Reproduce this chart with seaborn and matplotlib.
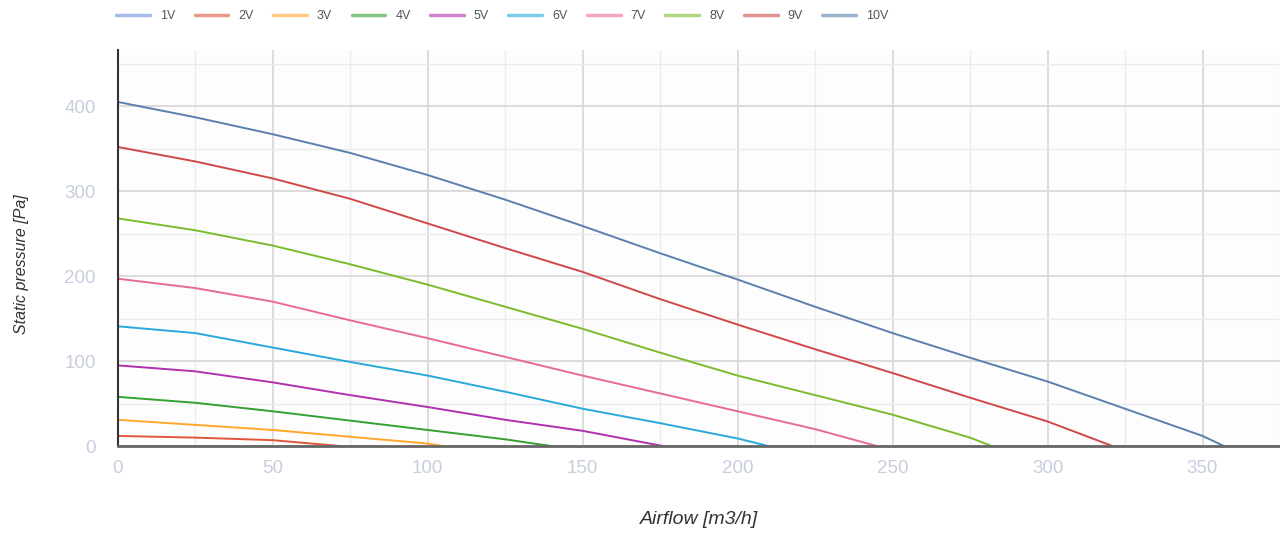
import matplotlib
matplotlib.use("Agg")
import matplotlib.pyplot as plt
from matplotlib.lines import Line2D
from matplotlib.ticker import MultipleLocator
import numpy as np
import pandas as pd
import seaborn as sns

# fan curves: airflow [m3/h] -> static pressure [Pa]
labels = ["1V", "2V", "3V", "4V", "5V", "6V", "7V", "8V", "9V", "10V"]

flow_1v = []
pres_1v = []
flow_2v = [0, 25, 50, 72]
pres_2v = [12, 10, 7, 0]
flow_3v = [0, 25, 50, 75, 100, 105]
pres_3v = [31, 25, 19, 11, 3, 0]
flow_4v = [0, 25, 50, 75, 100, 125, 140]
pres_4v = [58, 51, 41, 30, 19, 8, 0]
flow_5v = [0, 25, 50, 75, 100, 125, 150, 176]
pres_5v = [95, 88, 75, 60, 46, 31, 18, 0]
flow_6v = [0, 25, 50, 75, 100, 125, 150, 175, 200, 210]
pres_6v = [141, 133, 116, 99, 83, 64, 44, 27, 9, 0]
flow_7v = [0, 25, 50, 75, 100, 125, 150, 175, 200, 225, 245]
pres_7v = [197, 186, 170, 148, 127, 105, 83, 62, 41, 20, 0]
flow_8v = [0, 25, 50, 75, 100, 125, 150, 175, 200, 225, 250, 275, 282]
pres_8v = [268, 254, 236, 214, 190, 164, 138, 110, 83, 60, 37, 10, 0]
flow_9v = [0, 25, 50, 75, 100, 125, 150, 175, 200, 225, 250, 275, 300, 321]
pres_9v = [352, 335, 315, 291, 262, 233, 205, 173, 143, 114, 86, 57, 29, 0]
flow_10v = [0, 25, 50, 75, 100, 125, 150, 175, 200, 225, 250, 275, 300, 325, 350, 357]
pres_10v = [405, 387, 367, 345, 319, 290, 259, 227, 196, 164, 133, 104, 76, 44, 12, 0]

flows = [flow_1v, flow_2v, flow_3v, flow_4v, flow_5v, flow_6v, flow_7v, flow_8v, flow_9v, flow_10v]
pressures = [pres_1v, pres_2v, pres_3v, pres_4v, pres_5v, pres_6v, pres_7v, pres_8v, pres_9v, pres_10v]

colors = ["#6a8fdc", "#e0553a", "#ffa62b", "#34a034", "#b030b0",
          "#28a9d9", "#e8699a", "#7cbb2c", "#d04848", "#5a80b0"]

sns.set_theme(style="white")
plt.rcParams['font.family'] = ['Liberation Sans', 'DejaVu Sans']

fig = plt.figure(figsize=(12.8, 5.33), dpi=100)
ax = fig.add_axes([0.092, 0.163, 0.908, 0.743])
ax.set_facecolor("#fdfdfd")

for lab, fx, py, col in zip(labels, flows, pressures, colors):
    if len(fx) == 0:
        continue
    df = pd.DataFrame({"flow": fx, "pressure": py})
    sns.lineplot(data=df, x="flow", y="pressure", color=col, lw=1.4, sort=False, ax=ax)

ax.set_xlim(0, 375)
ax.set_ylim(0, 466)
ax.xaxis.set_major_locator(MultipleLocator(50))
ax.xaxis.set_minor_locator(MultipleLocator(25))
ax.yaxis.set_major_locator(MultipleLocator(100))
ax.yaxis.set_minor_locator(MultipleLocator(50))
ax.grid(which="major", color="#d9d9d9", lw=1.3)
ax.grid(which="minor", color="#ececec", lw=1.0)
ax.set_axisbelow(True)

for s in ["top", "right"]:
    ax.spines[s].set_visible(False)
ax.spines["left"].set_color("#333333")
ax.spines["left"].set_linewidth(1.5)
ax.spines["bottom"].set_color("#666666")
ax.spines["bottom"].set_linewidth(2)

ax.tick_params(axis="both", which="both", length=0, labelsize=13.5, labelcolor="#c8cedd")
ax.tick_params(axis="x", pad=10)
ax.tick_params(axis="y", pad=16)

ax.set_xlabel("Airflow [m3/h]", fontsize=14, style="italic", color="#333333")
ax.set_ylabel("Static pressure [Pa]", fontsize=11.5, style="italic", color="#333333")
ax.xaxis.set_label_coords(0.5, -0.165)
ax.yaxis.set_label_coords(-0.076, 0.46)

handles = [Line2D([0], [0], color=c, lw=2.5, alpha=0.6) for c in colors]
fig.legend(handles, labels, loc="center left", bbox_to_anchor=(0.082, 0.97), ncol=10,
           frameon=False, fontsize=9, handlelength=2.7, handletextpad=0.8,
           columnspacing=1.55, labelcolor="#555555")

fig.savefig("out.png", dpi=100)
